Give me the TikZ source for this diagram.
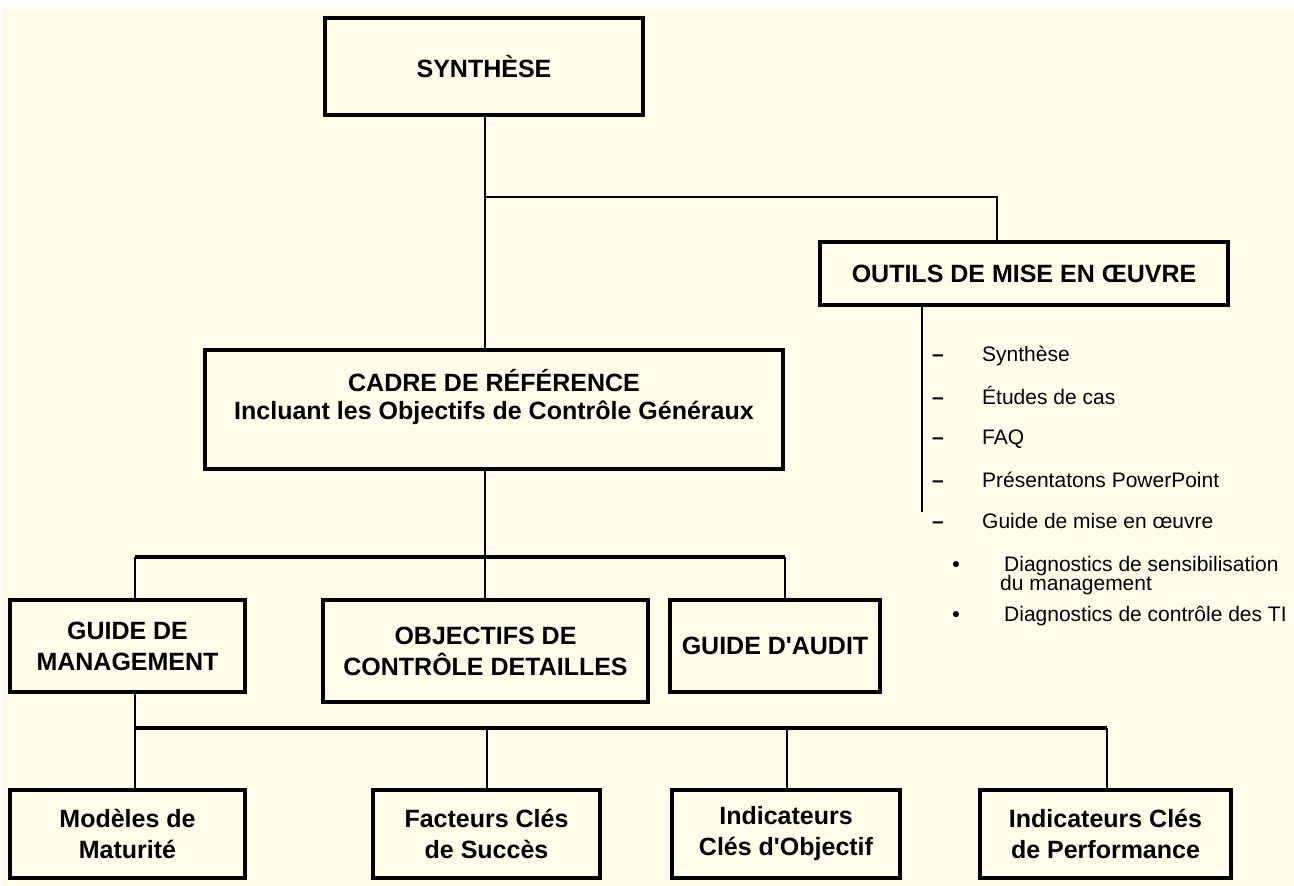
\documentclass[tikz,border=0pt]{standalone}
\usepackage{fontspec}
\setmainfont{Liberation Sans}
\definecolor{bg}{HTML}{FFFDE9}
\begin{document}
\begin{tikzpicture}[x=1pt,y=-1pt,
  box/.style={draw, line width=3.4pt, fill=bg, inner sep=0pt, align=center,
    font=\bfseries\fontsize{25}{31}\selectfont},
  conn/.style={line width=2.5pt},
  bus/.style={line width=3.2pt},
  item/.style={anchor=base west, inner sep=0pt, font=\fontsize{21}{24}\selectfont},
  dashmark/.style={anchor=base, inner sep=0pt, font=\bfseries\fontsize{21}{24}\selectfont}]
\fill[white] (0,0) rectangle (1294,886);
\fill[bg] (2,7) rectangle (1294,886);
\useasboundingbox (0,0) rectangle (1294,886);

% boxes
\node[box, minimum width=318, minimum height=97] (syn) at (484,66.5) {SYNTHÈSE};
\node[box, minimum width=408, minimum height=63] (out) at (1024,273.5) {OUTILS DE MISE EN ŒUVRE};
\node[box, minimum width=578, minimum height=119] (cadre) at (494,409.5) {};
\node[inner sep=0pt, align=center, font=\bfseries\fontsize{25}{28}\selectfont] (cadretext) at (494,397) {CADRE DE RÉFÉRENCE\\Incluant les Objectifs de Contrôle Généraux};
\node[box, minimum width=235, minimum height=92] (gm) at (127.5,646) {GUIDE DE\\MANAGEMENT};
\node[box, minimum width=325, minimum height=102] (ocd) at (485.5,651) {OBJECTIFS DE\\CONTRÔLE DETAILLES};
\node[box, minimum width=210, minimum height=92] (ga) at (775,646) {GUIDE D\textquotesingle AUDIT};
\node[box, minimum width=235, minimum height=88] (mm) at (127.5,834) {Modèles de\\Maturité};
\node[box, minimum width=227, minimum height=88] (fcs) at (486.5,834) {Facteurs Clés\\de Succès};
\node[box, minimum width=228, minimum height=88] (ico) at (786,834) {Indicateurs\\Clés d\textquotesingle Objectif};
\node[box, minimum width=251, minimum height=88] (icp) at (1105.5,834) {Indicateurs Clés\\de Performance};

% top connectors
\coordinate (j1) at (485,197);
\coordinate (j2) at (997,197);
\draw[conn] (syn.south -| j1) -- (j1 |- cadre.north);
\draw[conn] (j1) -- (j2) -- (j2 |- out.north);
\coordinate (oend) at (922,512);
\draw[conn] (out.south -| oend) -- (oend);

% middle bus
\coordinate (b1) at (485,557);
\coordinate (b1l) at (135,557);
\coordinate (b1r) at (785,557);
\draw[conn] (cadre.south -| b1) -- (b1);
\draw[bus] (b1l) -- (b1r);
\draw[conn] (b1l) -- (b1l |- gm.north);
\draw[conn] (b1) -- (b1 |- ocd.north);
\draw[conn] (b1r) -- (b1r |- ga.north);

% bottom bus
\coordinate (b2l) at (135,728);
\coordinate (b2a) at (487,728);
\coordinate (b2b) at (787,728);
\coordinate (b2r) at (1107,728);
\draw[conn] (gm.south -| b2l) -- (b2l);
\draw[bus] (b2l) -- (b2r);
\draw[conn] (b2l) -- (b2l |- mm.north);
\draw[conn] (b2a) -- (b2a |- fcs.north);
\draw[conn] (b2b) -- (b2b |- ico.north);
\draw[conn] (b2r) -- (b2r |- icp.north);

% list
\node[dashmark] (d1) at (938,361) {–};
\node[item] (t1) at (982,361) {Synthèse};
\node[dashmark] (d2) at (938,404) {–};
\node[item] (t2) at (982,404) {Études de cas};
\node[dashmark] (d3) at (938,444) {–};
\node[item] (t3) at (982,444) {FAQ};
\node[dashmark] (d4) at (938,487) {–};
\node[item] (t4) at (982,487) {Présentatons PowerPoint};
\node[dashmark] (d5) at (938,528) {–};
\node[item] (t5) at (982,528) {Guide de mise en œuvre};
\node[dashmark] (p1) at (956,571) {•};
\node[item] (t6) at (1004,571) {Diagnostics de sensibilisation};
\node[item] (t7) at (1000,590) {du management};
\node[dashmark] (p2) at (956,621) {•};
\node[item] (t8) at (1004,621) {Diagnostics de contrôle des TI};
\end{tikzpicture}
\end{document}
